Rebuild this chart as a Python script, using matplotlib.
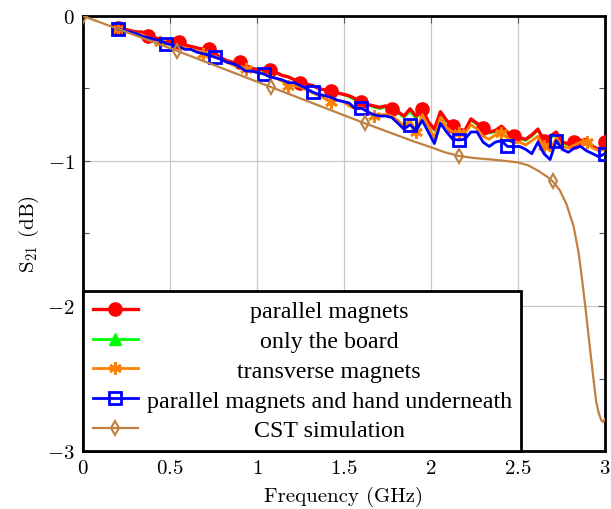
import numpy as np
import matplotlib
matplotlib.use("Agg")
import matplotlib.pyplot as plt
from matplotlib.ticker import FixedLocator, MultipleLocator

plt.rcParams['font.family'] = 'serif'
plt.rcParams['font.serif'] = ['cmr10']
plt.rcParams['mathtext.fontset'] = 'cm'
plt.rcParams['axes.formatter.use_mathtext'] = True

# ---------------- data ----------------
freq = np.linspace(0.2, 3.0, 81)  # GHz, measured sweep

parallel = [-0.08, -0.09, -0.10, -0.11, -0.11, -0.14, -0.15, -0.16, -0.17, -0.18,
            -0.18, -0.20, -0.21, -0.22, -0.23, -0.23, -0.26, -0.29, -0.31, -0.32,
            -0.32, -0.34, -0.36, -0.37, -0.37, -0.37, -0.39, -0.41, -0.42, -0.44,
            -0.46, -0.47, -0.48, -0.50, -0.51, -0.52, -0.53, -0.54, -0.55, -0.57,
            -0.59, -0.61, -0.62, -0.63, -0.62, -0.64, -0.66, -0.69, -0.64, -0.69,
            -0.64, -0.73, -0.78, -0.66, -0.72, -0.76, -0.78, -0.79, -0.71, -0.74,
            -0.77, -0.80, -0.79, -0.76, -0.80, -0.83, -0.84, -0.85, -0.82, -0.78,
            -0.86, -0.83, -0.80, -0.87, -0.88, -0.87, -0.86, -0.85, -0.90, -0.92,
            -0.87]

# hidden underneath the other measured curves in the reference
board = [-0.08, -0.09, -0.10, -0.11, -0.12, -0.14, -0.15, -0.16, -0.17, -0.18,
         -0.19, -0.20, -0.21, -0.22, -0.23, -0.24, -0.26, -0.29, -0.31, -0.32,
         -0.33, -0.34, -0.36, -0.37, -0.38, -0.38, -0.39, -0.41, -0.42, -0.44,
         -0.46, -0.47, -0.48, -0.50, -0.51, -0.52, -0.53, -0.54, -0.56, -0.58,
         -0.59, -0.61, -0.63, -0.64, -0.63, -0.65, -0.67, -0.70, -0.66, -0.71,
         -0.65, -0.74, -0.79, -0.67, -0.73, -0.77, -0.79, -0.79, -0.72, -0.75,
         -0.78, -0.81, -0.80, -0.77, -0.81, -0.84, -0.85, -0.86, -0.83, -0.79,
         -0.87, -0.85, -0.81, -0.88, -0.89, -0.87, -0.86, -0.86, -0.90, -0.92,
         -0.88]

transverse = [-0.09, -0.10, -0.11, -0.12, -0.13, -0.15, -0.16, -0.18, -0.19, -0.20,
              -0.21, -0.22, -0.23, -0.24, -0.26, -0.27, -0.28, -0.30, -0.32, -0.34,
              -0.35, -0.365, -0.38, -0.39, -0.40, -0.41, -0.43, -0.45, -0.48, -0.48,
              -0.49, -0.51, -0.53, -0.55, -0.57, -0.59, -0.58, -0.59, -0.62, -0.64,
              -0.63, -0.66, -0.69, -0.68, -0.68, -0.69, -0.72, -0.76, -0.72, -0.80,
              -0.68, -0.76, -0.84, -0.70, -0.77, -0.80, -0.81, -0.81, -0.75, -0.78,
              -0.83, -0.85, -0.82, -0.81, -0.84, -0.87, -0.87, -0.89, -0.86, -0.83,
              -0.90, -0.93, -0.84, -0.90, -0.91, -0.89, -0.87, -0.87, -0.91, -0.93,
              -0.92]

hand = [-0.09, -0.10, -0.11, -0.12, -0.14, -0.15, -0.16, -0.17, -0.19, -0.20,
        -0.21, -0.23, -0.23, -0.25, -0.26, -0.27, -0.285, -0.30, -0.32, -0.33,
        -0.35, -0.38, -0.38, -0.39, -0.40, -0.42, -0.43, -0.44, -0.46, -0.46,
        -0.48, -0.50, -0.525, -0.54, -0.55, -0.56, -0.58, -0.59, -0.60, -0.64,
        -0.635, -0.66, -0.68, -0.69, -0.69, -0.70, -0.74, -0.78, -0.75, -0.79,
        -0.72, -0.80, -0.88, -0.74, -0.80, -0.85, -0.855, -0.85, -0.80, -0.80,
        -0.87, -0.90, -0.87, -0.86, -0.90, -0.90, -0.90, -0.92, -0.95, -0.87,
        -0.95, -0.99, -0.86, -0.92, -0.94, -0.91, -0.90, -0.93, -0.95, -0.97,
        -0.95]

cst_freq = [0.0, 0.27, 0.54, 0.81, 1.08, 1.35, 1.62, 1.89, 2.0, 2.08, 2.16, 2.25,
            2.35, 2.43, 2.5, 2.56, 2.62, 2.67, 2.70, 2.74, 2.78, 2.82, 2.85, 2.87,
            2.89, 2.915, 2.935, 2.95, 2.965, 2.98, 2.99, 3.0]
cst_vals = [0.0, -0.12, -0.24, -0.365, -0.49, -0.615, -0.74, -0.86, -0.905, -0.94,
            -0.965, -0.98, -0.99, -1.00, -1.01, -1.03, -1.07, -1.11, -1.14, -1.20,
            -1.30, -1.45, -1.64, -1.83, -2.03, -2.30, -2.51, -2.66, -2.74, -2.79,
            -2.80, -2.78]
cst_marks = [0, 2, 4, 6, 10, 18]

labels = ['parallel magnets', 'only the board', 'transverse magnets',
          'parallel magnets and hand underneath', 'CST simulation']
xticks = [0, 0.5, 1, 1.5, 2, 2.5, 3]
xticklabels = ['$0$', '$0.5$', '$1$', '$1.5$', '$2$', '$2.5$', '$3$']
yticks = [-3, -2, -1, 0]
yticklabels = ['$-3$', '$-2$', '$-1$', '$0$']

# ---------------- plot ----------------
fig = plt.figure(figsize=(6.11, 5.10), dpi=100)
ax = fig.add_axes([0.1358, 0.1137, 0.8542, 0.853])

l_board, = ax.plot(freq, board, color='#00ff00', lw=1.6, marker='^', ms=6,
                   markevery=5, label=labels[1], zorder=2)
l_par, = ax.plot(freq, parallel, color='#ff0000', lw=2.4, marker='o', ms=9.5,
                 markevery=5, label=labels[0], zorder=3)
l_tr, = ax.plot(freq, transverse, color='#ff8000', lw=2.0, marker=(6, 2, 0), ms=9,
                mew=2.0, markevery=7, label=labels[2], zorder=3)
l_hand, = ax.plot(freq, hand, color='#0000ff', lw=2.0, marker='s', ms=9, mfc='none',
                  mew=2.0, markevery=8, label=labels[3], zorder=3)
l_cst, = ax.plot(cst_freq, cst_vals, color='#bf8040', lw=1.6, marker='d', ms=7,
                 mfc='none', mew=1.5, markevery=cst_marks, label=labels[4], zorder=4)

ax.set_xlim(0, 3)
ax.set_ylim(-3, 0)
ax.xaxis.set_major_locator(FixedLocator(xticks))
ax.set_xticklabels(xticklabels)
ax.yaxis.set_major_locator(FixedLocator(yticks))
ax.set_yticklabels(yticklabels)
ax.yaxis.set_minor_locator(MultipleLocator(0.5))
ax.grid(True, which='major', color='#c8c8c8', lw=0.9, zorder=0)
ax.set_axisbelow(True)
ax.tick_params(which='both', direction='in', top=True, right=True,
               labelsize=15, color='#555555')
ax.tick_params(which='major', length=5, width=0.8)
ax.tick_params(which='minor', length=4, width=0.8)
ax.tick_params(axis='x', pad=6)
ax.tick_params(axis='y', pad=6)
for s in ax.spines.values():
    s.set_linewidth(2.0)
    s.set_color('black')

ax.set_xlabel('Frequency (GHz)', fontsize=15, labelpad=6)
ax.set_ylabel(r'S$_{21}$ (dB)', fontsize=15, labelpad=4)

leg = ax.legend([l_par, l_board, l_tr, l_hand, l_cst], labels,
                loc='lower left', bbox_to_anchor=(0, 0), borderaxespad=0,
                fancybox=False, framealpha=1, edgecolor='black',
                prop={'family': 'Liberation Serif', 'size': 17.3},
                handlelength=1.9, handletextpad=0.35, labelspacing=0.33,
                borderpad=0.4, numpoints=1)
leg.get_frame().set_linewidth(2.0)
leg.set_zorder(10)
leg.legend_handles[1].set_markersize(8)
leg.legend_handles[1].set_linewidth(2.0)

fig.canvas.draw()
texts = leg.get_texts()
widths = [t.get_window_extent().width for t in texts]
W = max(widths)
for t, w in zip(texts, widths):
    t.set_x((W - w) / 2)

fig.savefig('out.png', dpi=100)
